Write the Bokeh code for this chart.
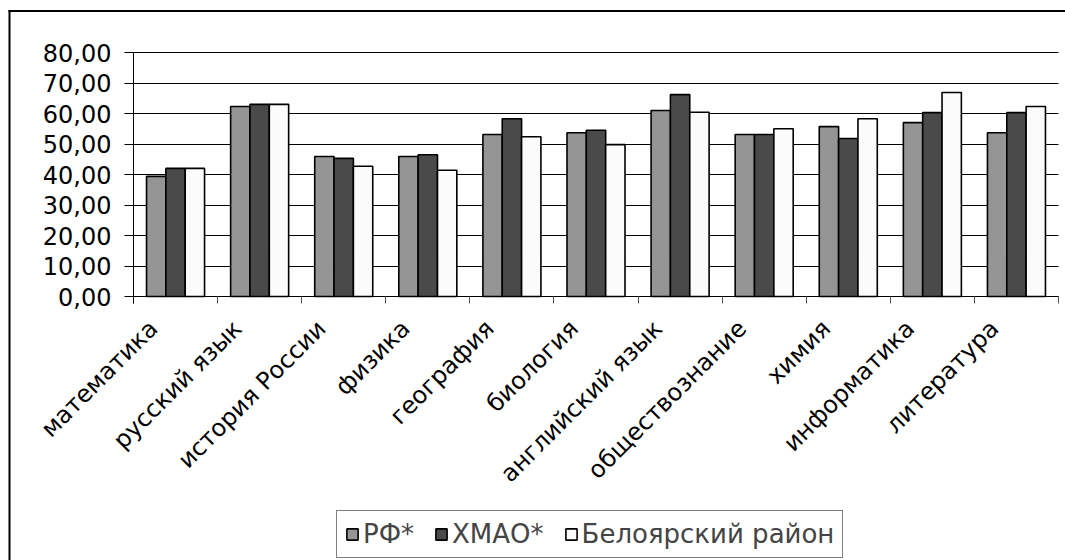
import math
from bokeh.plotting import figure
from bokeh.models import (ColumnDataSource, Range1d, FixedTicker, LabelSet, Legend, LegendItem,
                          BoxAnnotation)
from bokeh.core.properties import value
from bokeh.transform import dodge
from bokeh.embed import file_html
from bokeh.resources import INLINE

subjects = ["математика", "русский язык", "история России", "физика", "география",
            "биология", "английский язык", "обществознание", "химия", "информатика",
            "литература"]
rf = [39.4, 62.3, 45.9, 45.9, 53.1, 53.7, 61.0, 53.1, 55.7, 57.0, 53.7]
hmao = [42.0, 63.0, 45.3, 46.5, 58.3, 54.5, 66.2, 53.1, 51.8, 60.3, 60.3]
bel = [42.0, 63.0, 42.7, 41.4, 52.4, 49.8, 60.4, 55.0, 58.3, 66.9, 62.3]
series_names = ["РФ*", "ХМАО*", "Белоярский район"]
y_ticks = [0, 10, 20, 30, 40, 50, 60, 70, 80]
y_tick_labels = ["0,00", "10,00", "20,00", "30,00", "40,00", "50,00", "60,00", "70,00", "80,00"]

FONT = "DejaVu Sans"
colors = ["#959595", "#4a4a4a", "#fbfbfb"]

n = len(subjects)
centers = [i + 0.5 for i in range(n)]  # category slot centres
src = ColumnDataSource(dict(subject=subjects, pos=centers, rf=rf, hmao=hmao, bel=bel))

# layout (pixels on the 1065x560 canvas)
W, H = 1065, 560
PLOT_LEFT, PLOT_RIGHT = 133, 1058      # value axis / right end of category axis
PLOT_TOP, PLOT_BOTTOM = 52, 296        # 80 gridline / 0 line
px_cat = (PLOT_RIGHT - PLOT_LEFT) / n
px_val = (PLOT_BOTTOM - PLOT_TOP) / 80.0
x_range = Range1d(-PLOT_LEFT / px_cat, n + (W - PLOT_RIGHT) / px_cat)
y_range = Range1d(-(H - PLOT_BOTTOM) / px_val, 80 + PLOT_TOP / px_val)


def px_x(px):
    return (px - PLOT_LEFT) / px_cat


def px_y(py):
    return (PLOT_BOTTOM - py) / px_val


p = figure(x_range=x_range, y_range=y_range, width=W, height=H,
           output_backend="svg", toolbar_location=None,
           min_border_left=0, min_border_right=0, min_border_top=0, min_border_bottom=0)
p.outline_line_color = None
p.background_fill_color = "white"
p.border_fill_color = "white"

# outer chart border: only its left and top edges fall inside the picture
p.add_layout(BoxAnnotation(left=px_x(8), right=px_x(10), top=px_y(9.5), bottom=y_range.start,
                           fill_color="black", fill_alpha=1, line_color=None))
p.add_layout(BoxAnnotation(left=px_x(8), right=x_range.end, top=px_y(9.5), bottom=px_y(11.5),
                           fill_color="black", fill_alpha=1, line_color=None))

w = 0.23
renderers = []
for col, off, c in zip(["rf", "hmao", "bel"], [-w, 0, w], colors):
    r = p.vbar(x=dodge("pos", off), top=col, width=w, source=src,
               fill_color=c, line_color="black", line_width=1.6)
    renderers.append(r)

# grid
p.xgrid.visible = False
p.ygrid.ticker = FixedTicker(ticks=y_ticks)
p.ygrid.cross_bounds = (0, n)
p.ygrid.grid_line_color = "black"
p.ygrid.grid_line_width = 1

# y axis at category-axis start
p.yaxis.fixed_location = 0
p.yaxis.ticker = FixedTicker(ticks=y_ticks)
p.yaxis.bounds = (-7 / px_val, 80)
p.yaxis.major_label_overrides = {t: l for t, l in zip(y_ticks, y_tick_labels)}
p.yaxis.axis_line_color = "black"
p.yaxis.major_tick_line_color = "black"
p.yaxis.major_tick_out = 9
p.yaxis.major_tick_in = 0
p.yaxis.minor_tick_line_color = None
p.yaxis.major_label_standoff = 13
p.yaxis.major_label_text_font = FONT
p.yaxis.major_label_text_font_size = "24px"
p.yaxis.major_label_text_color = "black"

# x axis at value 0: ticks on category boundaries, labels drawn separately
p.xaxis.fixed_location = 0
p.xaxis.bounds = (0, n)
p.xaxis.ticker = FixedTicker(ticks=list(range(n + 1)))
p.xaxis.major_label_text_color = None
p.xaxis.major_label_text_font_size = "1px"
p.xaxis.axis_line_color = "black"
p.xaxis.major_tick_line_color = "#555555"
p.xaxis.major_tick_out = 7
p.xaxis.major_tick_in = 0
p.xaxis.minor_tick_line_color = None

labels = LabelSet(x="pos", y=0, text="subject", source=src, angle=math.pi / 4,
                  text_align="right", text_baseline="middle", x_offset=-22, y_offset=-28,
                  text_font=value(FONT), text_font_size="24px", text_color="black")
p.add_layout(labels)

legend = Legend(items=[LegendItem(label=s, renderers=[r]) for s, r in zip(series_names, renderers)],
                orientation="horizontal", location=(336, 2),
                border_line_color="black", border_line_width=1, background_fill_color="white",
                label_text_font=FONT, label_text_font_size="26px",
                glyph_width=14, glyph_height=14, label_standoff=4, spacing=20,
                padding=8, margin=0)
p.add_layout(legend, "center")

open("out.html", "w").write(file_html(p, INLINE))
